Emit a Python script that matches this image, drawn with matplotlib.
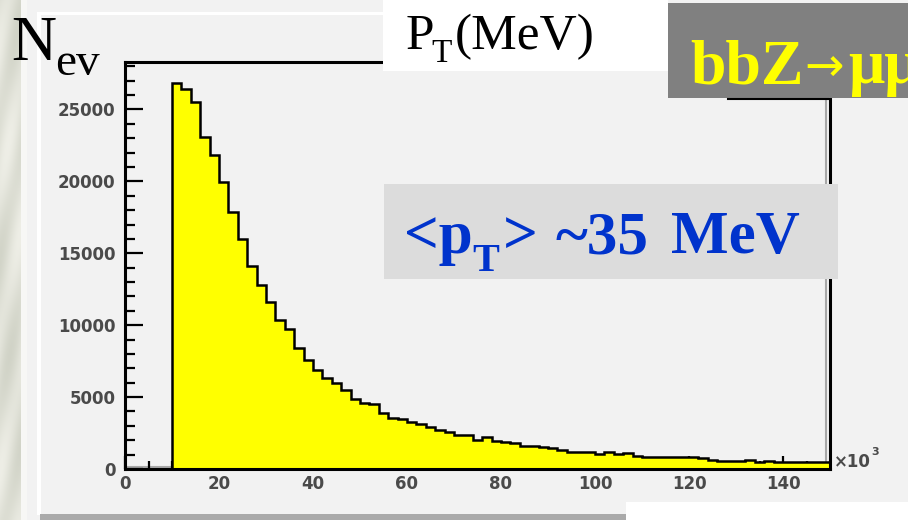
import matplotlib
matplotlib.use("Agg")
import matplotlib.pyplot as plt
import numpy as np
from matplotlib.lines import Line2D
from matplotlib.patches import Rectangle
from matplotlib.ticker import MultipleLocator

W, H = 908, 520
SERIF = "Liberation Serif"

# pT spectrum of the muons, 2-unit bins starting at 10 (axis in 10^3 MeV)
BIN_LO = 10
BIN_WIDTH = 2
COUNTS = [
    26850, 26400, 25550, 23100, 21800, 19950, 17900, 16000, 14100, 12800,  # 10-30
    11600, 10350, 9700, 8400, 7600, 6850, 6300, 5950, 5500, 4900,  # 30-50
    4600, 4550, 3900, 3550, 3450, 3300, 3100, 2950, 2700, 2550,  # 50-70
    2350, 2350, 2050, 2200, 1950, 1850, 1800, 1600, 1600, 1550,  # 70-90
    1450, 1350, 1200, 1150, 1150, 1050, 1200, 1050, 1100, 900,  # 90-110
    850, 850, 850, 800, 850, 800, 780, 600, 580, 580,  # 110-130
    580, 600, 520, 540, 500, 500, 500, 490, 500, 500,  # 130-150
]
X_TICKS = [0, 20, 40, 60, 80, 100, 120, 140]
Y_TICKS = [0, 5000, 10000, 15000, 20000, 25000]
X_MAX = 150
Y_MAX = 28300


def fx(x):
    return x / W


def fy(y):
    return 1 - y / H


def box(fig, x0, y0, x1, y1, color, z=5):
    fig.add_artist(Rectangle((fx(x0), fy(y1)), fx(x1 - x0), (y1 - y0) / H,
                             transform=fig.transFigure, facecolor=color,
                             edgecolor="none", zorder=z))


def text(fig, x, y, s, size, color="black", weight="normal", family=SERIF):
    fig.text(fx(x), fy(y), s, fontsize=size, color=color, fontweight=weight,
             family=family, ha="left", va="baseline", zorder=10)


def draw_background(fig):
    # marble strip on the left edge of the slide
    strip = fig.add_axes([0, 0, fx(21), 1], zorder=-5)
    strip.axis("off")
    yy, xx = np.mgrid[0:H, 0:21]
    t = 0.55 + 0.25 * np.sin(yy / 23.0 + xx / 5.0) + 0.15 * np.sin(yy / 61.0 - xx / 9.0)
    dark = np.array([0.80, 0.81, 0.76])
    light = np.array([0.94, 0.94, 0.91])
    img = dark + (light - dark) * np.clip(t, 0, 1)[..., None]
    strip.imshow(img, aspect="auto", interpolation="bilinear")

    box(fig, 21, 0, 27, H, "#f7f7f5", z=-4)
    box(fig, 37, 12, 41, 515, "white", z=-4)
    box(fig, 37, 12, W, 15, "white", z=-4)
    box(fig, 40, 514, 626, H, "#aaaaaa", z=-4)
    box(fig, 626, 502, W, H, "white", z=-4)


def draw_histogram(fig):
    ax = fig.add_axes([fx(125), fy(469), fx(830 - 125), (469 - 62) / H])
    ax.set_facecolor("#f2f2f2")
    edges = BIN_LO + BIN_WIDTH * np.arange(len(COUNTS) + 1)
    ax.stairs(COUNTS, edges, fill=True, color="#ffff00", zorder=2)
    ax.stairs(COUNTS, edges, color="black", linewidth=1.8, baseline=0, zorder=3)

    # inner shading of the frame
    ax.add_line(Line2D([0, 1], [0.006, 0.006], transform=ax.transAxes,
                       color="#a8a8a8", linewidth=1.5, zorder=1))
    ax.add_line(Line2D([0.995, 0.995], [0, 1], transform=ax.transAxes,
                       color="#a8a8a8", linewidth=1.5, zorder=1))

    ax.set_xlim(0, X_MAX)
    ax.set_ylim(0, Y_MAX)
    ax.set_xticks(X_TICKS, labels=[str(v) for v in X_TICKS])
    ax.set_yticks(Y_TICKS, labels=[str(v) for v in Y_TICKS])
    ax.xaxis.set_minor_locator(MultipleLocator(5))
    ax.yaxis.set_minor_locator(MultipleLocator(1000))
    ax.tick_params(axis="both", which="both", direction="in", width=1.6,
                   colors="black", labelcolor="#4a4a4a", labelsize=12)
    ax.tick_params(axis="y", which="major", length=13, pad=7)
    ax.tick_params(axis="y", which="minor", length=7)
    ax.tick_params(axis="x", which="major", length=9.5, pad=4)
    ax.tick_params(axis="x", which="minor", length=6)
    for lab in ax.get_xticklabels() + ax.get_yticklabels():
        lab.set_fontweight("bold")
    for spine in ax.spines.values():
        spine.set_linewidth(2.2)
        spine.set_zorder(4)

    # axis multiplier at the end of the x axis
    text(fig, 834, 467, "\u00d710", 12, color="#4a4a4a", weight="bold", family="DejaVu Sans")
    text(fig, 871, 455, "3", 8, color="#4a4a4a", weight="bold", family="DejaVu Sans")
    return ax


def draw_labels(fig):
    # axis titles
    text(fig, 11, 60, "N", 45)
    text(fig, 55, 75, "ev", 34)
    box(fig, 383, 0, 668, 71, "white")
    text(fig, 406, 49, "P", 37)
    text(fig, 431, 62, "T", 24)
    text(fig, 455, 49, "(MeV)", 37)

    # process tag
    box(fig, 668, 3, W, 98, "#808080")
    fig.add_artist(Line2D([fx(728), fx(828)], [fy(98.5), fy(98.5)],
                          transform=fig.transFigure, color="black", linewidth=1.5, zorder=6))
    text(fig, 690, 83, "bbZ", 46, color="#ffff00", weight="bold")
    text(fig, 804, 81, "\u2192", 34, color="#ffff00", family="DejaVu Sans")
    text(fig, 848, 83, "\u03bc\u03bc", 46, color="#ffff00", weight="bold")

    # mean pT annotation
    blue = "#0033cc"
    box(fig, 384, 184, 838, 279, "#dcdcdc")
    text(fig, 404, 253, "<p", 44, color=blue, weight="bold")
    text(fig, 472, 271, "T", 29, color=blue, weight="bold")
    text(fig, 503, 253, ">", 44, color=blue, weight="bold")
    text(fig, 556, 253, "~35", 44, color=blue, weight="bold")
    text(fig, 671, 253, "MeV", 44, color=blue, weight="bold")


def main():
    fig = plt.figure(figsize=(W / 100, H / 100), dpi=100, facecolor="#f2f2f2")
    draw_background(fig)
    draw_histogram(fig)
    draw_labels(fig)
    fig.savefig("out.png", dpi=100, facecolor=fig.get_facecolor())
    plt.close(fig)


if __name__ == "__main__":
    main()
